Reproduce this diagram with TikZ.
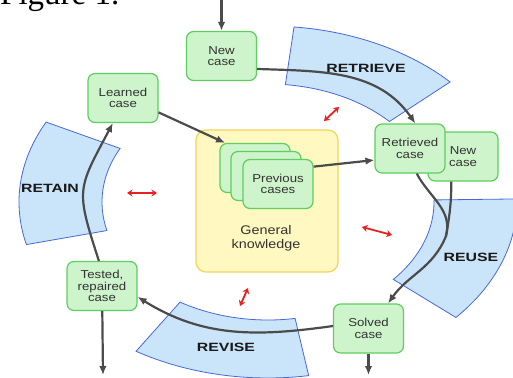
\documentclass[tikz,border=0pt]{standalone}
\usepackage{fontspec}
\usepackage{tikz}
\usetikzlibrary{positioning,arrows.meta,calc}

\newfontfamily\casefont{Liberation Sans}[FakeStretch=1.15]
\newfontfamily\bandfont{Liberation Sans}[FakeStretch=1.32]
\newfontfamily\capfont{Liberation Serif}

\definecolor{casefill}{RGB}{205,244,202}
\definecolor{caseline}{RGB}{95,205,95}
\definecolor{gkfill}{RGB}{255,248,192}
\definecolor{gkline}{RGB}{245,212,90}
\definecolor{bandfill}{RGB}{202,228,249}
\definecolor{bandline}{RGB}{72,104,218}
\definecolor{flowgray}{RGB}{75,75,75}
\definecolor{linkred}{RGB}{232,32,32}

% one phase of the cycle: start angle, end angle
\newcommand{\phaseband}[2]{%
  \draw[band] ($(ctr)+(#1:166pt and 118pt)$)
    arc[start angle=#1, end angle=#2, x radius=166pt, y radius=118pt]
    -- ($(ctr)+(#2:249pt and 176pt)$)
    arc[start angle=#2, end angle=#1, x radius=249pt, y radius=176pt] -- cycle;}

\begin{document}
\begin{tikzpicture}[x=1pt, y=1pt, >={Latex[length=9pt,width=7.5pt]},
  case/.style={draw=caseline, fill=casefill, line width=1.2pt, rounded corners=7pt,
    minimum width=70pt, minimum height=49pt, inner sep=1pt, align=center,
    text=black!80, font=\casefont\fontsize{11.5}{11.5}\selectfont},
  gkbox/.style={draw=gkline, fill=gkfill, line width=1.2pt, rounded corners=10pt,
    minimum width=142pt, minimum height=142pt},
  gktext/.style={align=center, text=black!80, font=\casefont\fontsize{12.5}{13.5}\selectfont},
  band/.style={draw=bandline, fill=bandfill, line width=0.8pt},
  phase/.style={text=black!90, font=\bandfont\bfseries\fontsize{12}{12}\selectfont},
  flow/.style={->, draw=flowgray, line width=2.2pt},
  link/.style={{Stealth[length=5.5pt,width=7pt]}-{Stealth[length=5.5pt,width=7pt]},
    draw=linkred, line width=1.8pt}]
  \useasboundingbox (0,0) rectangle (513,-377);

  \node[anchor=base west, inner sep=0pt, font=\capfont\fontsize{33}{33}\selectfont] (figcap) at (0,-4.5) {Figure 1.};

  % the four phases
  \coordinate (ctr) at (268,-202);
  \phaseband{43}{84}
  \phaseband{-41}{1}
  \phaseband{-122}{-80.6}
  \phaseband{153}{194}
  \node[phase] (retrieve) at (366,-68) {RETRIEVE};
  \node[phase] (reuse) at (471,-257) {REUSE};
  \node[phase] (revise) at (226,-347) {REVISE};
  \node[phase] (retain) at (50,-188) {RETAIN};

  % case base
  \node[gkbox] (gk) at (267,-201) {};
  \node[case] (prev1) at (255,-168) {};
  \node[case] (prev2) at (266,-176) {};
  \node[case] (prev3) at (278,-184) {Previous\\cases};
  \node[gktext] (gklabel) at (266,-238.5) {General\\knowledge};

  \node[case] (newcase) at (221.5,-56) {New\\case};
  \node[case] (learned) at (123,-98) {Learned\\case};
  \node[case] (newcase2) at (463,-156.5) {New\\case};
  \node[case] (retrieved) at (410,-148.5) {Retrieved\\case};
  \node[case] (tested) at (102,-286) {Tested,\\repaired\\case};
  \node[case] (solved) at (368.5,-328.5) {Solved\\case};

  \coordinate (in) at (221.5,4);
  \coordinate (testedout) at (103,-375);
  \coordinate (solvedout) at (368.5,-375);
  \coordinate (merge) at (446,-236);

  \draw[flow] (in) -- (newcase);
  \draw[flow] (newcase.-20) to[out=-2,in=125] (retrieved.78);
  \draw[flow] (learned.-22) -- (prev1.140);
  \draw[flow] (prev3.26) -- (retrieved.198);
  \draw[flow,-] (newcase2.-115) to[out=-90,in=80] (merge);
  \draw[flow] (retrieved.-75) to[out=-62,in=75] (merge) to[out=-112,in=55] (solved.52);
  \draw[flow] (solved.176) to[out=188,in=-32] (tested.-17);
  \draw[flow] (tested.97) to[out=108,in=-118,looseness=1.4] (learned.-112);
  \draw[flow] (tested) -- (testedout);
  \draw[flow] (solved) -- (solvedout);

  % links to the case base
  \coordinate (r1a) at (324,-121); \coordinate (r1b) at (339,-107);
  \coordinate (r2a) at (127,-193); \coordinate (r2b) at (157,-193);
  \coordinate (r3a) at (362,-227); \coordinate (r3b) at (392,-235);
  \coordinate (r4a) at (240,-306); \coordinate (r4b) at (248,-288);
  \draw[link] (r1a) -- (r1b);
  \draw[link] (r2a) -- (r2b);
  \draw[link] (r3a) -- (r3b);
  \draw[link] (r4a) -- (r4b);
\end{tikzpicture}
\end{document}
